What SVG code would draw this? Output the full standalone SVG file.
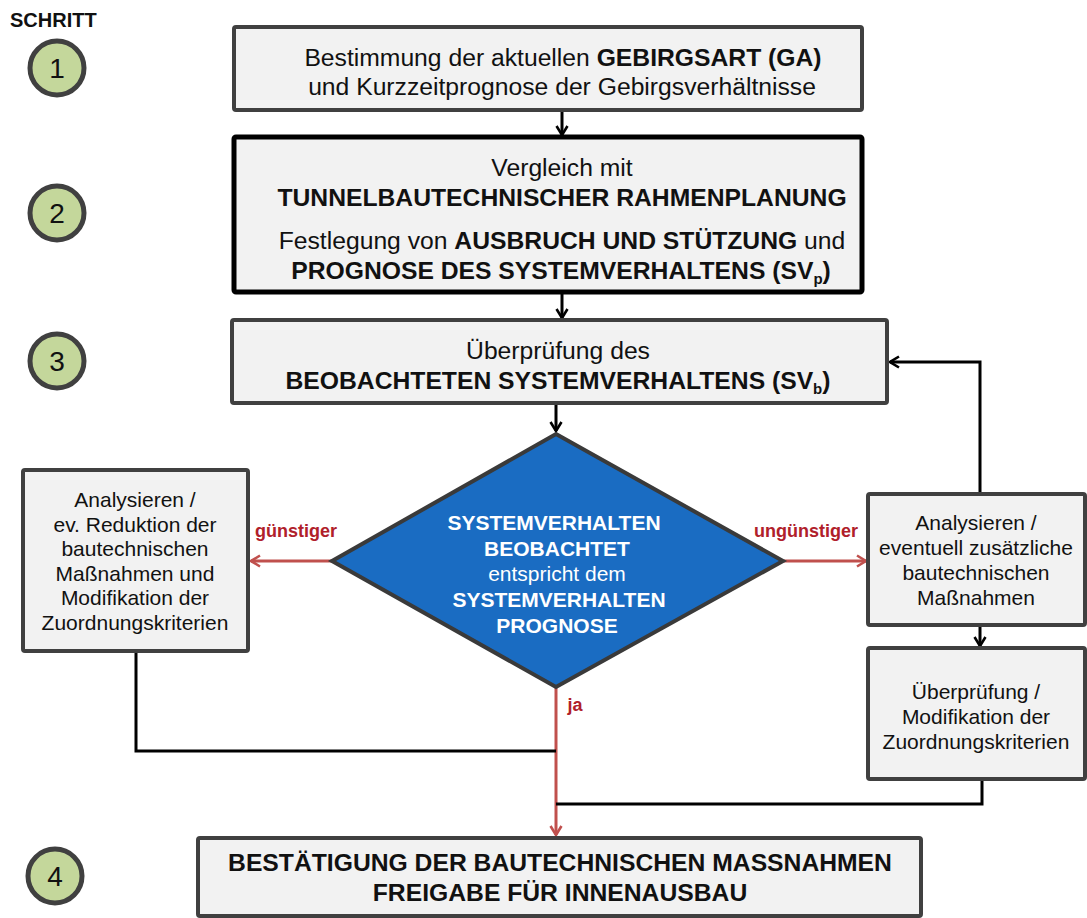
<svg xmlns="http://www.w3.org/2000/svg" width="1087" height="918" viewBox="0 0 1087 918">
<style>
text{font-family:"Liberation Sans",Arial,sans-serif;fill:#111;}
.t{font-size:24.7px;text-anchor:middle;}
.s{font-size:21px;text-anchor:middle;}
.b{font-weight:bold;}
.box{fill:#f2f2f2;stroke:#404040;stroke-width:4;}
.circ{fill:#c4d79b;stroke:#404040;stroke-width:5;}
.num{font-size:28px;text-anchor:middle;fill:#111;}
.dtxt{font-size:21px;text-anchor:middle;fill:#fff;}
.lbl{font-size:18px;font-weight:bold;fill:#b0202a;text-anchor:middle;}
.cb{fill:none;stroke:#000;stroke-width:3;}
.cr{fill:none;stroke:#c0504d;stroke-width:3;}
</style>
<defs>
<marker id="ab" viewBox="0 0 12 14" refX="10.5" refY="7" markerWidth="12" markerHeight="14" markerUnits="userSpaceOnUse" orient="auto">
<path d="M1.5,1.5 L10.5,7 L1.5,12.5" fill="none" stroke="#000" stroke-width="2.6"/>
</marker>
<marker id="ar" viewBox="0 0 12 14" refX="10.5" refY="7" markerWidth="12" markerHeight="14" markerUnits="userSpaceOnUse" orient="auto">
<path d="M1.5,1.5 L10.5,7 L1.5,12.5" fill="none" stroke="#c0504d" stroke-width="2.6"/>
</marker>
</defs>

<g id="steps">
<text x="10" y="27" font-size="20" font-weight="bold">SCHRITT</text>
<g id="step1"><circle class="circ" cx="57" cy="68" r="27"/><text class="num" x="57" y="78">1</text></g>
<g id="step2"><circle class="circ" cx="57" cy="213" r="27"/><text class="num" x="57" y="223">2</text></g>
<g id="step3"><circle class="circ" cx="57" cy="361" r="27"/><text class="num" x="57" y="371">3</text></g>
<g id="step4"><circle class="circ" cx="55" cy="876" r="27"/><text class="num" x="55" y="886">4</text></g>
</g>

<g id="connectors">
<path class="cb" d="M562,110 L562,135" marker-end="url(#ab)"/>
<path class="cb" d="M562,292 L562,318" marker-end="url(#ab)"/>
<path class="cb" d="M556,403 L556,431" marker-end="url(#ab)"/>
<path class="cr" d="M332,561 L251,561" marker-end="url(#ar)"/>
<path class="cr" d="M784,561 L866,561" marker-end="url(#ar)"/>
<path class="cr" d="M556,687 L556,835" marker-end="url(#ar)"/>
<path class="cb" d="M980,494 L980,362 L890,362" marker-end="url(#ab)"/>
<path class="cb" d="M980,625 L980,646" marker-end="url(#ab)"/>
<path class="cb" d="M136,651 L136,751 L556,751"/>
<path class="cb" d="M982,779 L982,804 L556,804"/>
</g>

<g id="labels">
<text class="lbl" x="296" y="537">günstiger</text>
<text class="lbl" x="806" y="537">ungünstiger</text>
<text class="lbl" x="575" y="711">ja</text>
</g>

<g id="n1">
<rect class="box" x="234" y="27" width="628" height="83" rx="2"/>
<text class="t" x="563" y="66">Bestimmung der aktuellen <tspan class="b">GEBIRGSART (GA)</tspan></text>
<text class="t" x="562" y="95">und Kurzzeitprognose der Gebirgsverhältnisse</text>
</g>

<g id="n2">
<rect x="234" y="137" width="628" height="155" rx="2" fill="#f2f2f2" stroke="#000" stroke-width="5"/>
<text class="t" x="562" y="176">Vergleich mit</text>
<text class="t b" x="562" y="206">TUNNELBAUTECHNISCHER RAHMENPLANUNG</text>
<text class="t" x="562" y="249">Festlegung von <tspan class="b">AUSBRUCH UND STÜTZUNG</tspan> und</text>
<text class="t b" x="561" y="279">PROGNOSE DES SYSTEMVERHALTENS (SV<tspan font-size="15" dy="5">p</tspan><tspan dy="-5">)</tspan></text>
</g>

<g id="n3">
<rect class="box" x="232" y="320" width="655" height="83" rx="2"/>
<text class="t" x="558" y="359">Überprüfung des</text>
<text class="t b" x="558" y="389">BEOBACHTETEN SYSTEMVERHALTENS (SV<tspan font-size="15" dy="5">b</tspan><tspan dy="-5">)</tspan></text>
</g>

<g id="decision">
<polygon points="556,434 783,561 556,687 332,561" fill="#1a6cc2" stroke="#3a3a3a" stroke-width="4" stroke-linejoin="miter"/>
<text class="dtxt b" x="554" y="530">SYSTEMVERHALTEN</text>
<text class="dtxt b" x="557" y="556">BEOBACHTET</text>
<text class="dtxt" x="557" y="581">entspricht dem</text>
<text class="dtxt b" x="559" y="607">SYSTEMVERHALTEN</text>
<text class="dtxt b" x="557" y="633">PROGNOSE</text>
</g>

<g id="left">
<rect class="box" x="23" y="470" width="225" height="181" rx="2"/>
<text class="s" x="135" y="507">Analysieren /</text>
<text class="s" x="135" y="532">ev. Reduktion der</text>
<text class="s" x="135" y="556">bautechnischen</text>
<text class="s" x="135" y="581">Maßnahmen und</text>
<text class="s" x="135" y="605">Modifikation der</text>
<text class="s" x="135" y="630">Zuordnungskriterien</text>
</g>

<g id="right1">
<rect class="box" x="868" y="494" width="217" height="131" rx="2"/>
<text class="s" x="976" y="530">Analysieren /</text>
<text class="s" x="976" y="555">eventuell zusätzliche</text>
<text class="s" x="976" y="580">bautechnischen</text>
<text class="s" x="976" y="605">Maßnahmen</text>
</g>

<g id="right2">
<rect class="box" x="868" y="648" width="217" height="131" rx="2"/>
<text class="s" x="976" y="699">Überprüfung /</text>
<text class="s" x="976" y="724">Modifikation der</text>
<text class="s" x="976" y="749">Zuordnungskriterien</text>
</g>

<g id="n4">
<rect class="box" x="198" y="838" width="723" height="78" rx="2"/>
<text class="t b" x="560" y="871">BESTÄTIGUNG DER BAUTECHNISCHEN MASSNAHMEN</text>
<text class="t b" x="560" y="901">FREIGABE FÜR INNENAUSBAU</text>
</g>
</svg>
